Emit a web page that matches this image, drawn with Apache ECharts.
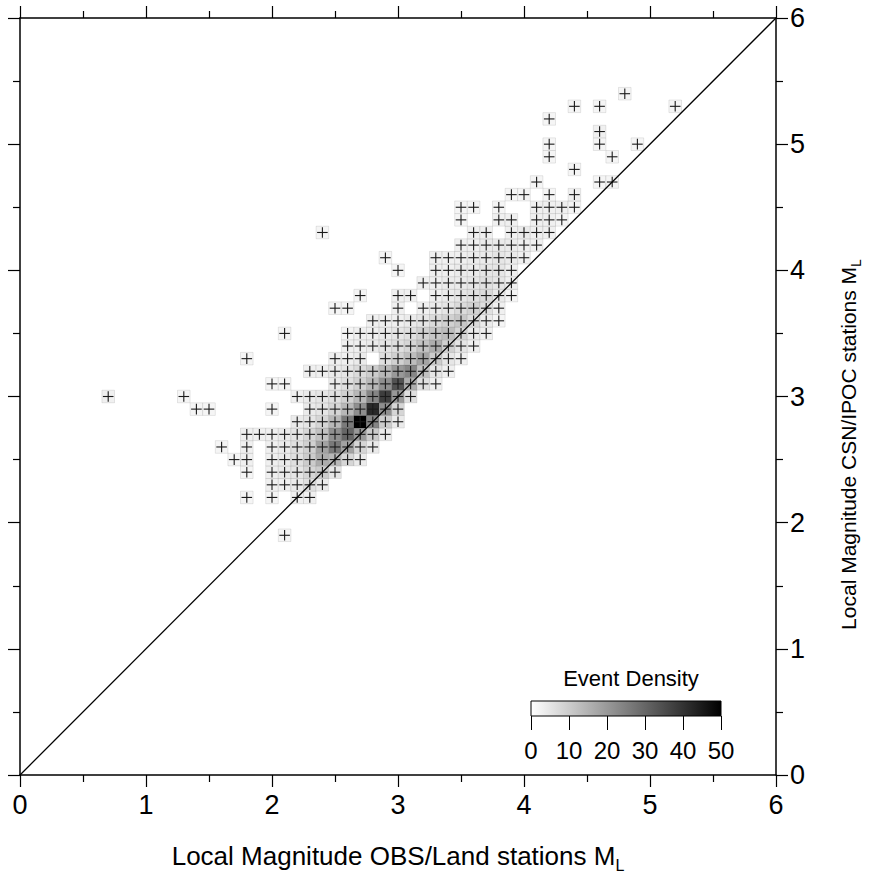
<!DOCTYPE html>
<html><head><meta charset="utf-8">
<script src="https://cdn.jsdelivr.net/npm/echarts@6/dist/echarts.min.js"></script>
<style>html,body{margin:0;padding:0;background:#fff}#c{width:874px;height:880px}</style>
</head><body><div id="c"></div>
<script>
// ---- data ----
const magY = [1.9, 2.2, 2.3, 2.4, 2.5, 2.6, 2.7, 2.8, 2.9, 3.0, 3.1, 3.2, 3.3, 3.4, 3.5, 3.6, 3.7, 3.8, 3.9, 4.0, 4.1, 4.2, 4.3, 4.4, 4.5, 4.6, 4.7, 4.8, 4.9, 5.0, 5.1, 5.2, 5.3, 5.4];
const magX = [
  [2.1],
  [1.8, 2.0, 2.2, 2.3],
  [2.0, 2.1, 2.2, 2.3, 2.4],
  [1.8, 2.0, 2.1, 2.2, 2.3, 2.4, 2.5],
  [1.7, 1.8, 2.0, 2.1, 2.2, 2.3, 2.4, 2.5, 2.6, 2.7],
  [1.6, 1.8, 2.0, 2.1, 2.2, 2.3, 2.4, 2.5, 2.6, 2.7, 2.8],
  [1.8, 1.9, 2.0, 2.1, 2.2, 2.3, 2.4, 2.5, 2.6, 2.7, 2.8, 2.9],
  [2.2, 2.3, 2.4, 2.5, 2.6, 2.7, 2.8, 2.9, 3.0],
  [1.4, 1.5, 2.0, 2.3, 2.4, 2.5, 2.6, 2.7, 2.8, 2.9, 3.0],
  [0.7, 1.3, 2.2, 2.3, 2.4, 2.5, 2.6, 2.7, 2.8, 2.9, 3.0, 3.1],
  [2.0, 2.1, 2.5, 2.6, 2.7, 2.8, 2.9, 3.0, 3.1, 3.2, 3.3],
  [2.3, 2.4, 2.5, 2.6, 2.7, 2.8, 2.9, 3.0, 3.1, 3.2, 3.3, 3.4],
  [1.8, 2.5, 2.6, 2.7, 2.9, 3.0, 3.1, 3.2, 3.3, 3.4, 3.5],
  [2.6, 2.7, 2.8, 2.9, 3.0, 3.1, 3.2, 3.3, 3.4, 3.5, 3.6],
  [2.1, 2.6, 2.7, 2.8, 2.9, 3.0, 3.1, 3.2, 3.3, 3.4, 3.5, 3.6, 3.7],
  [2.8, 2.9, 3.0, 3.1, 3.2, 3.3, 3.4, 3.5, 3.6, 3.7, 3.8],
  [2.5, 2.6, 3.0, 3.2, 3.3, 3.4, 3.5, 3.6, 3.7, 3.8],
  [2.7, 3.0, 3.1, 3.3, 3.4, 3.5, 3.6, 3.7, 3.8, 3.9],
  [3.2, 3.3, 3.4, 3.5, 3.6, 3.7, 3.8, 3.9],
  [3.0, 3.3, 3.4, 3.5, 3.6, 3.7, 3.8, 3.9],
  [2.9, 3.3, 3.4, 3.5, 3.6, 3.7, 3.8, 3.9, 4.0],
  [3.5, 3.6, 3.7, 3.8, 3.9, 4.0, 4.1],
  [2.4, 3.6, 3.7, 3.9, 4.0, 4.1, 4.2],
  [3.5, 3.8, 3.9, 4.1, 4.2, 4.3],
  [3.5, 3.6, 3.8, 4.1, 4.2, 4.3, 4.4],
  [3.9, 4.0, 4.2, 4.4],
  [4.1, 4.6, 4.7],
  [4.4],
  [4.2, 4.7],
  [4.2, 4.6, 4.9],
  [4.6],
  [4.2],
  [4.4, 4.6, 5.2],
  [4.8]
];
const eventCount = [
  [2],
  [2, 2, 3, 3],
  [3, 3, 4, 6, 4],
  [2, 3, 4, 5, 8, 10, 5],
  [2, 3, 3, 4, 6, 10, 16, 14, 8, 4],
  [2, 3, 3, 4, 6, 9, 18, 26, 18, 8, 4],
  [3, 3, 3, 4, 5, 8, 12, 22, 30, 20, 10, 4],
  [4, 5, 8, 14, 26, 50, 24, 10, 4],
  [2, 2, 2, 4, 5, 8, 14, 22, 42, 22, 8],
  [3, 2, 3, 4, 5, 6, 9, 14, 24, 38, 20, 6],
  [2, 2, 4, 6, 9, 14, 22, 34, 16, 6, 3],
  [3, 3, 4, 5, 7, 10, 14, 20, 24, 12, 5, 3],
  [2, 3, 3, 4, 6, 9, 13, 18, 10, 5, 3],
  [3, 3, 4, 5, 6, 8, 12, 16, 9, 5, 3],
  [2, 2, 3, 3, 4, 5, 6, 9, 11, 13, 8, 4, 3],
  [3, 3, 3, 4, 5, 7, 9, 11, 7, 4, 2],
  [2, 2, 3, 3, 4, 5, 7, 9, 6, 3],
  [2, 3, 3, 3, 4, 5, 6, 7, 4, 2],
  [3, 3, 4, 4, 5, 6, 5, 3],
  [2, 3, 3, 4, 4, 5, 5, 3],
  [2, 3, 3, 3, 4, 4, 5, 4, 3],
  [3, 3, 4, 4, 4, 3, 3],
  [2, 3, 3, 3, 4, 3, 3],
  [2, 3, 3, 3, 3, 2],
  [2, 2, 2, 3, 3, 3, 2],
  [2, 2, 2, 3],
  [2, 2, 2],
  [2],
  [2, 2],
  [2, 2, 2],
  [3],
  [2],
  [2, 2, 2],
  [2]
];
const axisTickLabels = [0, 1, 2, 3, 4, 5, 6];
const densityTickLabels = [0, 10, 20, 30, 40, 50];
const oneToOneX = [0, 6];
const oneToOneY = [0, 6];
const binSize = 0.1;

// ---- build ----
const cells = [];
magY.forEach((y, i) => magX[i].forEach((x, j) => cells.push([x, y, eventCount[i][j]])));
const diag = oneToOneX.map((x, i) => [x, oneToOneY[i]]);
const densMin = densityTickLabels[0], densMax = densityTickLabels[densityTickLabels.length - 1];

const FONT = "'Liberation Sans', Arial, Helvetica, sans-serif";
const chart = echarts.init(document.getElementById('c'), null, {renderer: 'svg'});

const frameAxis = {
  type: 'value', min: axisTickLabels[0], max: axisTickLabels[axisTickLabels.length - 1], interval: 1,
  splitLine: {show: false},
  axisLine: {show: true, onZero: false, lineStyle: {color: '#000', width: 1.5}},
  axisTick: {show: true, inside: false, length: 12, lineStyle: {color: '#000', width: 1.2}},
  minorTick: {show: true, splitNumber: 2, length: 7, lineStyle: {color: '#000', width: 1.2}},
  axisLabel: {show: false}
};

const richName = (big, small) => ({
  a: {fontSize: big, fontFamily: FONT, color: '#000', lineHeight: big + 4, verticalAlign: 'top'},
  b: {fontSize: small, fontFamily: FONT, color: '#000', lineHeight: 10, verticalAlign: 'bottom'}
});

const option = {
  animation: false,
  backgroundColor: '#fff',
  grid: [
    {left: 20, top: 18, width: 756, height: 757},
    {left: 531, top: 701, width: 190, height: 15}
  ],
  title: {
    text: 'Event Density', left: 626, top: 662, textAlign: 'center',
    textStyle: {fontSize: 22, fontWeight: 'normal', color: '#000', fontFamily: FONT}
  },
  visualMap: {
    type: 'continuous', show: false, min: densMin, max: densMax, dimension: 2, seriesIndex: 0,
    inRange: {color: ['#ffffff', '#000000']}
  },
  xAxis: [
    Object.assign({}, frameAxis, {
      gridIndex: 0, position: 'bottom',
      axisLabel: {show: true, fontSize: 27, color: '#000', margin: 16, fontFamily: FONT},
      name: '{a|Local Magnitude OBS/Land stations M}{b|L}', nameLocation: 'middle', nameGap: 68,
      nameTextStyle: {rich: richName(26, 16)}
    }),
    Object.assign({}, frameAxis, {gridIndex: 0, position: 'top'}),
    {
      type: 'value', gridIndex: 1, min: densMin, max: densMax, interval: 10, position: 'bottom',
      splitLine: {show: false},
      axisLine: {show: false},
      axisTick: {show: true, inside: false, length: 14, lineStyle: {color: '#000', width: 1}},
      axisLabel: {show: true, fontSize: 24, color: '#000', margin: 22, fontFamily: FONT}
    }
  ],
  yAxis: [
    Object.assign({}, frameAxis, {gridIndex: 0, position: 'left'}),
    Object.assign({}, frameAxis, {
      gridIndex: 0, position: 'right',
      axisLabel: {show: true, fontSize: 27, color: '#000', margin: 14, fontFamily: FONT},
      name: '{a|Local Magnitude CSN/IPOC stations M}{b|L}', nameLocation: 'middle', nameGap: 62, nameRotate: 90,
      nameTextStyle: {rich: richName(21, 14), padding: [0, 96, 0, 0]}
    }),
    {type: 'value', gridIndex: 1, min: 0, max: 1, show: false}
  ],
  series: [
    {
      type: 'custom', xAxisIndex: 0, yAxisIndex: 0, data: cells, encode: {x: 0, y: 1}, z: 1,
      renderItem: (params, api) => {
        const x = api.value(0), y = api.value(1);
        const p0 = api.coord([x - binSize / 2, y + binSize / 2]);
        const p1 = api.coord([x + binSize / 2, y - binSize / 2]);
        return {
          type: 'rect',
          shape: {x: p0[0], y: p0[1], width: p1[0] - p0[0], height: p1[1] - p0[1]},
          style: {fill: api.visual('color'), stroke: 'rgba(0,0,0,0.09)', lineWidth: 1}
        };
      }
    },
    {
      type: 'custom', xAxisIndex: 0, yAxisIndex: 0, data: cells, encode: {x: 0, y: 1}, z: 2,
      renderItem: (params, api) => {
        const x = api.value(0), y = api.value(1);
        const arm = binSize * 0.42;
        const l = api.coord([x - arm, y]), r = api.coord([x + arm, y]);
        const t = api.coord([x, y + arm]), b = api.coord([x, y - arm]);
        const st = {stroke: '#1a1a1a', lineWidth: 1.1};
        return {
          type: 'group', children: [
            {type: 'line', shape: {x1: l[0], y1: l[1], x2: r[0], y2: r[1]}, style: st},
            {type: 'line', shape: {x1: t[0], y1: t[1], x2: b[0], y2: b[1]}, style: st}
          ]
        };
      }
    },
    {
      type: 'line', xAxisIndex: 0, yAxisIndex: 0, data: diag, symbol: 'none', z: 3,
      lineStyle: {color: '#000', width: 1.3}, silent: true
    },
    {
      type: 'custom', xAxisIndex: 2, yAxisIndex: 2, data: [[densMin, densMax]], z: 3,
      renderItem: (params, api) => {
        const p0 = api.coord([api.value(0), 1]);
        const p1 = api.coord([api.value(1), 0]);
        return {
          type: 'rect',
          shape: {x: p0[0], y: p0[1], width: p1[0] - p0[0], height: p1[1] - p0[1]},
          style: {
            fill: new echarts.graphic.LinearGradient(0, 0, 1, 0, [
              {offset: 0, color: '#ffffff'}, {offset: 1, color: '#000000'}
            ]),
            stroke: '#000', lineWidth: 1
          }
        };
      }
    }
  ]
};
chart.setOption(option);
</script>
</body></html>
